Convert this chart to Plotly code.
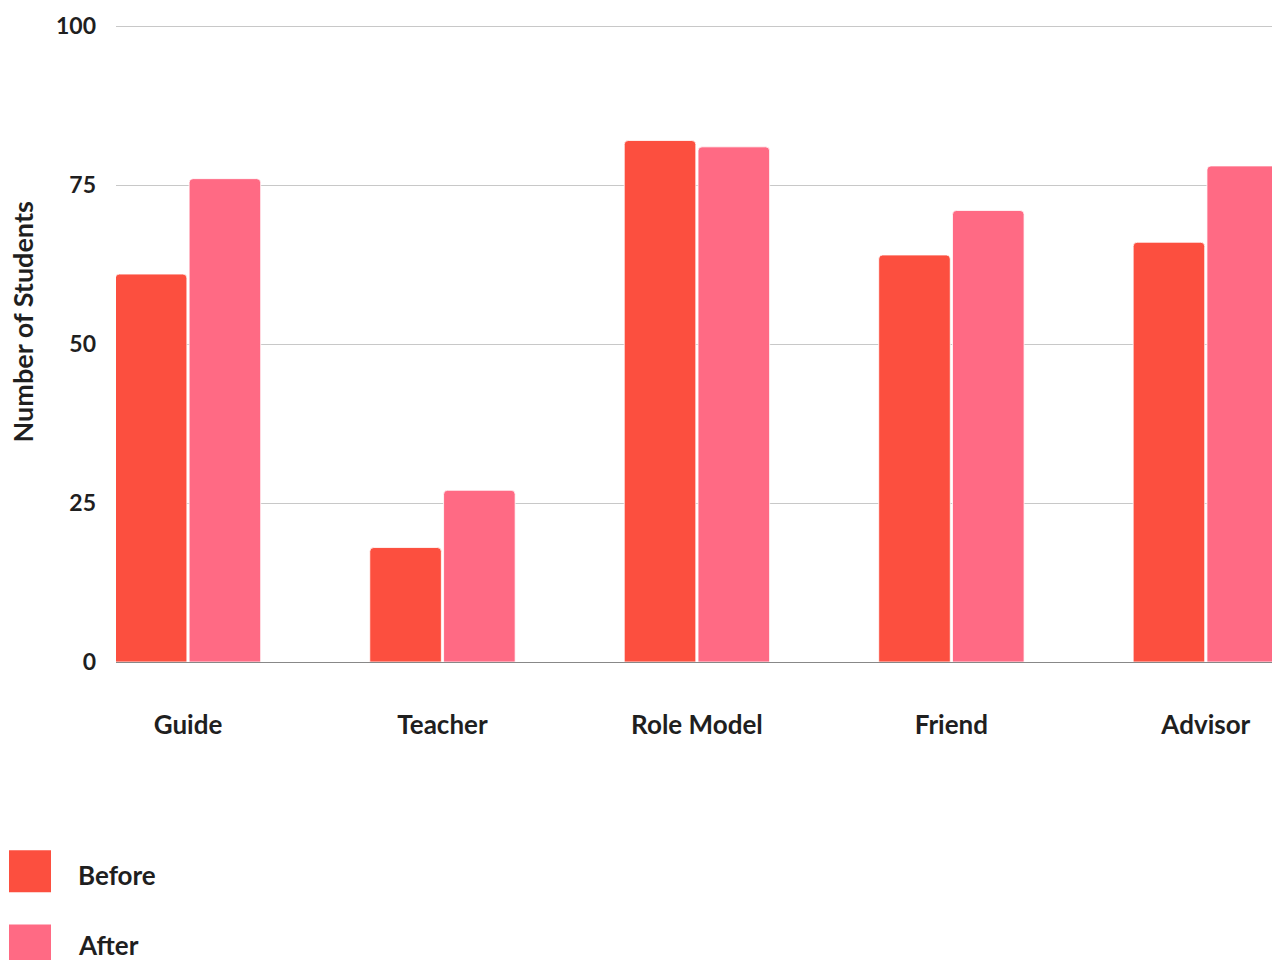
import plotly.graph_objects as go

# Survey results: how students describe the role, before and after
categories = ["Guide", "Teacher", "Role Model", "Friend", "Advisor"]
before = [61, 18, 82, 64, 66]
after = [76, 27, 81, 71, 78]
series_names = ["Before", "After"]
y_ticks = [0, 25, 50, 75, 100]

colors = ["#FC4F3F", "#FF6A84"]
font_family = "Lato, 'Noto Sans', sans-serif"
text_color = "#1f1f1f"

fig = go.Figure()
for name, vals, col in zip(series_names, [before, after], colors):
    fig.add_trace(go.Bar(
        x=categories, y=vals, name=name,
        marker=dict(color=col, line=dict(color="rgba(255,255,255,0.8)", width=1)),
        showlegend=False,
    ))

# Custom legend: large swatches with labels beneath the plot
swatch_tops = [850, 924]
label_centers = [875, 945]
plot_top, plot_bottom, plot_left, plot_w = 26, 662, 116, 1156
plot_h = plot_bottom - plot_top
for name, col, top, cy in zip(series_names, colors, swatch_tops, label_centers):
    fig.add_shape(
        type="rect", xref="paper", yref="paper",
        x0=(9 - plot_left) / plot_w, x1=(51 - plot_left) / plot_w,
        y0=(plot_bottom - (top + 42)) / plot_h, y1=(plot_bottom - top) / plot_h,
        fillcolor=col, line=dict(width=0), layer="above",
    )
    fig.add_annotation(
        xref="paper", yref="paper",
        x=(76 - plot_left) / plot_w, y=(plot_bottom - cy) / plot_h,
        text=name, showarrow=False, xanchor="left", yanchor="middle",
        font=dict(family=font_family, size=26, color=text_color, weight="bold"),
    )

# Axis title placed as rotated text left of the tick labels
fig.add_annotation(
    xref="paper", yref="paper",
    x=(22 - plot_left) / plot_w, y=(plot_bottom - 323) / plot_h,
    text="Number of Students", showarrow=False, textangle=-90,
    xanchor="center", yanchor="middle",
    font=dict(family=font_family, size=27, color=text_color, weight="bold"),
)

fig.update_layout(
    width=1272, height=960,
    margin=dict(l=116, r=0, t=25, b=298),
    paper_bgcolor="white", plot_bgcolor="white",
    barmode="group", bargap=0.42, bargroupgap=0.03,
    barcornerradius=4,
    font=dict(family=font_family, color=text_color),
)
fig.update_xaxes(
    range=[-0.283, 4.26], showgrid=False, showline=False, zeroline=False,
    ticks="", ticklabelstandoff=45,
    tickfont=dict(family=font_family, size=26, color=text_color, weight="bold"),
)
fig.update_yaxes(
    range=[0, 100.16], tickvals=y_ticks, showgrid=True, gridcolor="#c8c8c8", gridwidth=1,
    zeroline=True, zerolinecolor="#888888", zerolinewidth=1, showline=False,
    ticks="", ticklabelstandoff=19,
    tickfont=dict(family=font_family, size=23, color=text_color, weight="bold"),
)

fig.write_html("out.html")
